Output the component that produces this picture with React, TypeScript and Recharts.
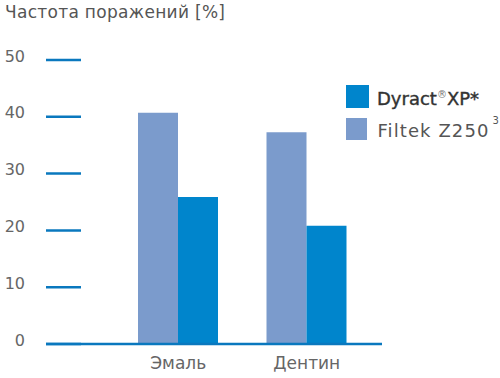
import React from "react";
import { BarChart, Bar, XAxis, YAxis, Legend } from "recharts";

const categories = ["Эмаль", "Дентин"];
const filtekValues = [40.7, 37.3];
const dyractValues = [25.9, 20.8];
const yTicks = [0, 10, 20, 30, 40, 50];

const data = categories.map((name, i) => ({
  name,
  filtek: filtekValues[i],
  dyract: dyractValues[i],
}));

const AXIS = "#0a78be";
const FONT = "'DejaVu Sans', sans-serif";

function YTick(props: any) {
  const { x, y, payload } = props;
  return (
    <g>
      <text x={x - 21} y={y + 1.5} textAnchor="end" fill="#666" fontSize={16} fontFamily={FONT}>
        {payload.value}
      </text>
      <line x1={x} x2={x + 35} y1={y} y2={y} stroke={AXIS} strokeWidth={2.5} />
    </g>
  );
}

function LegendBox() {
  const row = { display: "flex", alignItems: "center", height: 23 } as const;
  const box = { width: 23, height: 23, marginRight: 8 };
  return (
    <div style={{ fontFamily: FONT, fontSize: 18, lineHeight: "20px", whiteSpace: "nowrap" }}>
      <div style={row}>
        <div style={{ ...box, background: "#0085cc" }} />
        <span style={{ color: "#333", WebkitTextStroke: "0.4px #333" }}>
          Dyract<sup style={{ fontSize: 10, color: "#777", WebkitTextStroke: "0" }}>®</sup>XP*
        </span>
      </div>
      <div style={{ ...row, marginTop: 9 }}>
        <div style={{ ...box, height: 22, background: "#7b9bcc" }} />
        <span style={{ color: "#555", marginLeft: 2, letterSpacing: 1.1 }}>
          Filtek Z250
          <sup style={{ fontSize: 10, marginLeft: 3, position: "relative", top: -6 }}>3</sup>
        </span>
      </div>
    </div>
  );
}

export default function App() {
  return (
    <div style={{ position: "absolute", top: 0, left: 0, width: 500, height: 378, background: "#fff" }}>
      <div
        style={{
          position: "absolute",
          left: 5,
          top: 2,
          fontFamily: FONT,
          fontSize: 17,
          letterSpacing: 0.3,
          color: "#555",
          whiteSpace: "nowrap",
        }}
      >
        Частота поражений [%]
      </div>
      <BarChart
        width={500}
        height={378}
        data={data}
        margin={{ top: 60, right: 118, left: 0, bottom: 0 }}
        barGap={0}
        barSize={40}
      >
        <XAxis
          dataKey="name"
          height={34}
          padding={{ left: 68, right: 11 }}
          axisLine={{ stroke: AXIS, strokeWidth: 2.5 }}
          tickLine={false}
          tickSize={0}
          tickMargin={13}
          tick={{ fill: "#666", fontSize: 17, fontFamily: FONT }}
        />
        <YAxis
          width={46}
          domain={[0, 50]}
          ticks={yTicks}
          axisLine={false}
          tickLine={false}
          tickSize={0}
          tickMargin={0}
          tick={<YTick />}
          interval={0}
        />
        <Legend
          layout="vertical"
          align="center"
          verticalAlign="middle"
          content={() => <LegendBox />}
          wrapperStyle={{ position: "absolute", left: 346, top: 85, width: 154, height: 60 }}
        />
        <Bar dataKey="filtek" name="Filtek Z250" fill="#7b9bcc" isAnimationActive={false} />
        <Bar dataKey="dyract" name="Dyract XP" fill="#0085cc" isAnimationActive={false} />
      </BarChart>
    </div>
  );
}
